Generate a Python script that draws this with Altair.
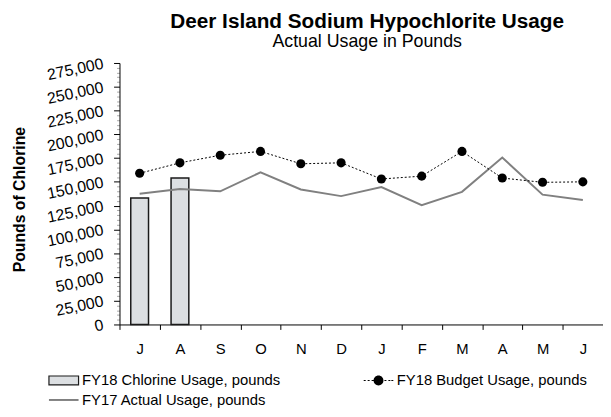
import altair as alt
import pandas as pd

months = ["Jul", "Aug", "Sep", "Oct", "Nov", "Dec", "Jan", "Feb", "Mar", "Apr", "May", "Jun"]
fy18_chlorine = [133000, 154000]
fy18_budget = [159000, 170000, 178000, 182000, 169000, 170000, 153000, 156000, 182000, 154000, 149500, 150000]
fy17_actual = [137500, 142500, 140000, 160000, 142000, 135000, 144500, 125500, 139500, 175500, 136500, 131000]
series_names = ["FY18 Chlorine Usage, pounds", "FY18 Budget Usage, pounds", "FY17 Actual Usage, pounds"]
y_tick_values = list(range(0, 275001, 5000))

FONT = "Liberation Sans"
BAR_FILL = "#dcdfe2"

bars_df = pd.DataFrame({"month": months[:2], "value": fy18_chlorine})
budget_df = pd.DataFrame({"month": months, "value": fy18_budget})
fy17_df = pd.DataFrame({"month": months, "value": fy17_actual})
legend_df = pd.DataFrame({"month": months[:3], "value": [0, 0, 0], "series": series_names})

x_axis = alt.Axis(title=None, labelExpr="substring(datum.label, 0, 1)", tickBand="extent",
                  tickSize=5, labelPadding=12, labelFontSize=15, labelFont=FONT, labelColor="#000",
                  domainColor="#000", tickColor="#000", labelAngle=0, grid=False)
x_enc = alt.X("month:N", sort=months,
              scale=alt.Scale(domain=months, paddingInner=0, paddingOuter=0), axis=x_axis)

y_axis = alt.Axis(title="Pounds of Chlorine", titleFont=FONT, titleFontSize=16, titleFontWeight="bold",
                  titleColor="#000", titleX=-101, titleY=138, titleAlign="center",
                  titleBaseline="middle", titleAngle=270,
                  values=y_tick_values,
                  labelExpr="datum.value % 25000 === 0 ? format(datum.value, ',') : ''",
                  labelOverlap=False, labelAngle=-12, labelAlign="right", labelBaseline="middle",
                  labelFontSize=16, labelFont=FONT, labelColor="#000", labelPadding=11,
                  tickSize={"condition": {"test": "datum.value % 25000 === 0", "value": 6}, "value": 3},
                  tickColor={"condition": {"test": "datum.value % 25000 === 0", "value": "#000"}, "value": "#aaa"},
                  domainColor="#000", grid=False)
y_enc = alt.Y("value:Q", scale=alt.Scale(domain=[0, 275000], nice=False, zero=True), axis=y_axis)

bars = alt.Chart(bars_df).mark_bar(size=18, fill=BAR_FILL, stroke="#1a1a1a", strokeWidth=1.5).encode(
    x=x_enc, y=y_enc)
fy17_line = alt.Chart(fy17_df).mark_line(color="#808080", strokeWidth=2).encode(x=x_enc, y=y_enc)
budget_line = alt.Chart(budget_df).mark_line(color="#000", strokeWidth=1, strokeDash=[2, 2]).encode(
    x=x_enc, y=y_enc)
budget_pts = alt.Chart(budget_df).mark_point(filled=True, size=85, color="#000", opacity=1).encode(
    x=x_enc, y=y_enc)

# legend symbol paths (unit = 5px, symbols span -3..3 => 30px wide)
bar_sym = "M-3,-0.9H3V0.9H-3Z"
line_sym = "M-3,-0.2H3V0.2H-3Z"
dash_parts = []
for s in [-3.0, -2.2, -1.4, 1.2, 2.0, 2.6]:
    dash_parts.append(f"M{s:.2f},-0.1h0.4v0.2h-0.4Z")
circle = "M-1,0A1,1 0 1,0 1,0A1,1 0 1,0 -1,0Z"
budget_sym = "".join(dash_parts) + circle

leg = alt.Legend(title=None, orient="none", legendX=-64, legendY=314, columns=2, direction="horizontal",
                 columnPadding=82, rowPadding=4, symbolSize=100, symbolStrokeWidth=1.2,
                 symbolStrokeColor={"expr": "datum.value === 'FY18 Chlorine Usage, pounds' ? '#1a1a1a' : 'transparent'"},
                 labelFont=FONT, labelFontSize=15, labelColor="#000", labelOffset=11, labelLimit=400,
                 symbolLimit=0)

legend_layer = alt.Chart(legend_df).mark_point(filled=True, opacity=1).encode(
    x=x_enc, y=y_enc,
    color=alt.Color("series:N", sort=series_names,
                    scale=alt.Scale(domain=series_names, range=[BAR_FILL, "#000000", "#808080"]), legend=leg),
    shape=alt.Shape("series:N", sort=series_names,
                    scale=alt.Scale(domain=series_names, range=[bar_sym, budget_sym, line_sym]), legend=leg),
).transform_filter("false")

chart = alt.layer(bars, fy17_line, budget_line, budget_pts, legend_layer).properties(
    width=490, height=265,
    title=alt.TitleParams(text="Deer Island Sodium Hypochlorite Usage", subtitle="Actual Usage in Pounds",
                          font=FONT, fontSize=21, fontWeight="bold", color="#000",
                          subtitleFont=FONT, subtitleFontSize=18, subtitleColor="#000",
                          subtitlePadding=2, anchor="middle", offset=4, dx=6),
    padding={"left": 113, "top": 53, "right": 0, "bottom": 88},
    autosize=alt.AutoSizeParams(type="none"),
).configure_view(stroke=None)

chart.save("out.html", embed_options={"renderer": "svg", "actions": False})
